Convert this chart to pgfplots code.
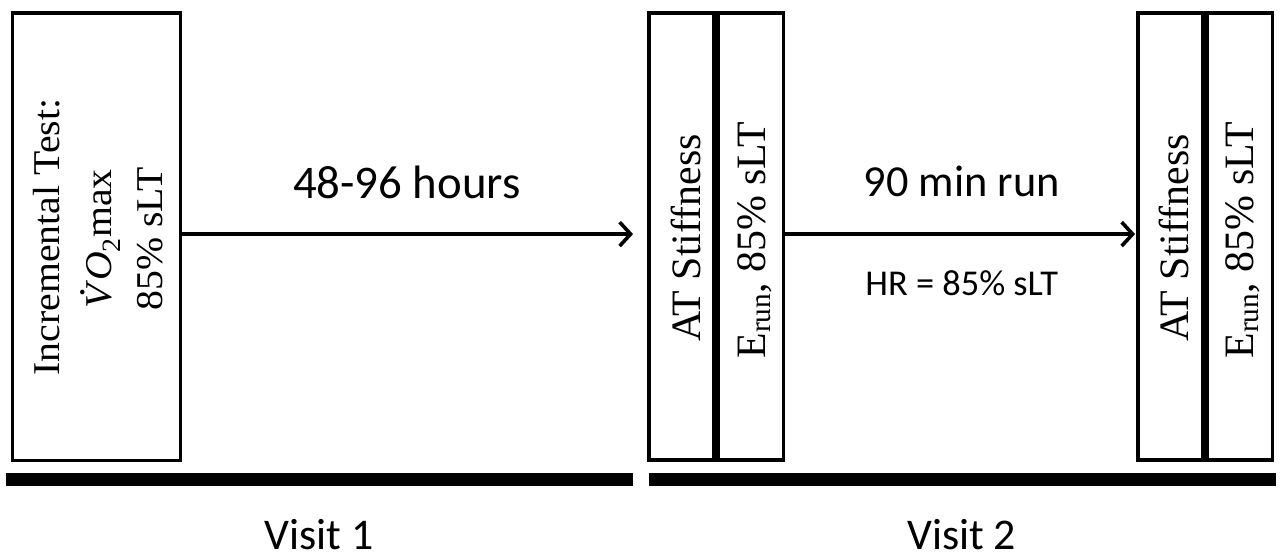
\documentclass[border=0pt]{standalone}
\usepackage{fontspec}
\setmainfont{Liberation Serif}
\newfontfamily\calib{Carlito}
\usepackage{graphicx}
\usepackage{pgfplots}
\pgfplotsset{compat=1.18}
\usetikzlibrary{arrows.meta}
\begin{document}
\begin{tikzpicture}
\begin{axis}[width=1282pt,height=557pt,scale only axis,
  xmin=0,xmax=1282,ymin=0,ymax=557,y dir=reverse,
  hide axis,clip=false]
% boxes
\addplot[black,line width=3.4pt,line join=miter] coordinates {(12,13)(181,13)(181,462)(12,462)} -- cycle;
\addplot[black,line width=3.8pt,line join=miter] coordinates {(651,13)(716.5,13)(716.5,462)(651,462)} -- cycle;
\addplot[black,line width=3.8pt,line join=miter] coordinates {(720.5,13)(786,13)(786,462)(720.5,462)} -- cycle;
\addplot[black,line width=3.8pt,line join=miter] coordinates {(1142,13)(1207,13)(1207,462)(1142,462)} -- cycle;
\addplot[black,line width=3.8pt,line join=miter] coordinates {(1211,13)(1277,13)(1277,462)(1211,462)} -- cycle;
% bars
\addplot[black,line width=13pt] coordinates {(6,481.5)(635,481.5)};
\addplot[black,line width=13pt] coordinates {(651,481.5)(1280,481.5)};
% arrows
\addplot[black,line width=3.6pt,-{Straight Barb[length=11pt,width=24pt]}] coordinates {(182,235)(635,235)};
\addplot[black,line width=3.6pt,-{Straight Barb[length=11pt,width=24pt]}] coordinates {(788,235)(1139,235)};
% rotated serif texts
\node[rotate=90,anchor=base,inner sep=0pt] at (axis cs:59,238) {\fontsize{38}{50}\selectfont\scalebox{1.05}[1]{Incremental Test:}};
\node[rotate=90,anchor=base,inner sep=0pt] at (axis cs:111,240) {\fontsize{38}{50}\selectfont\scalebox{1.05}[1]{\textit{\makebox[0pt][l]{\hspace{0.3em}\raisebox{0.7em}{.}}V}\textit{O}\textsubscript{2}max}};
\node[rotate=90,anchor=base,inner sep=0pt] at (axis cs:163,240) {\fontsize{38}{50}\selectfont\scalebox{1.05}[1]{85\% sLT}};
\node[rotate=90,anchor=base,inner sep=0pt] at (axis cs:703,239) {\fontsize{42}{50}\selectfont AT Stiffness};
\node[rotate=90,anchor=base,inner sep=0pt] at (axis cs:768,241) {\fontsize{42}{50}\selectfont E\textsubscript{run}, 85\% sLT};
\node[rotate=90,anchor=base,inner sep=0pt] at (axis cs:1193,239) {\fontsize{42}{50}\selectfont AT Stiffness};
\node[rotate=90,anchor=base,inner sep=0pt] at (axis cs:1258,241) {\fontsize{42}{50}\selectfont E\textsubscript{run}, 85\% sLT};
% sans texts
\node[anchor=base,inner sep=0pt] at (axis cs:408,199) {\calib\fontsize{47}{50}\selectfont 48-96 hours};
\node[anchor=base,inner sep=0pt] at (axis cs:965,197) {\calib\fontsize{44.5}{50}\selectfont 90 min run};
\node[anchor=base,inner sep=0pt] at (axis cs:965,297) {\calib\fontsize{36.5}{50}\selectfont HR = 85\% sLT};
\node[anchor=base,inner sep=0pt,text depth=0pt] at (axis cs:320,552) {\calib\fontsize{44}{50}\selectfont Visit 1};
\node[anchor=base,inner sep=0pt,text depth=0pt] at (axis cs:965,552) {\calib\fontsize{44}{50}\selectfont Visit 2};
\end{axis}
\useasboundingbox (current axis.south west) rectangle (current axis.north east);
\end{tikzpicture}
\end{document}
